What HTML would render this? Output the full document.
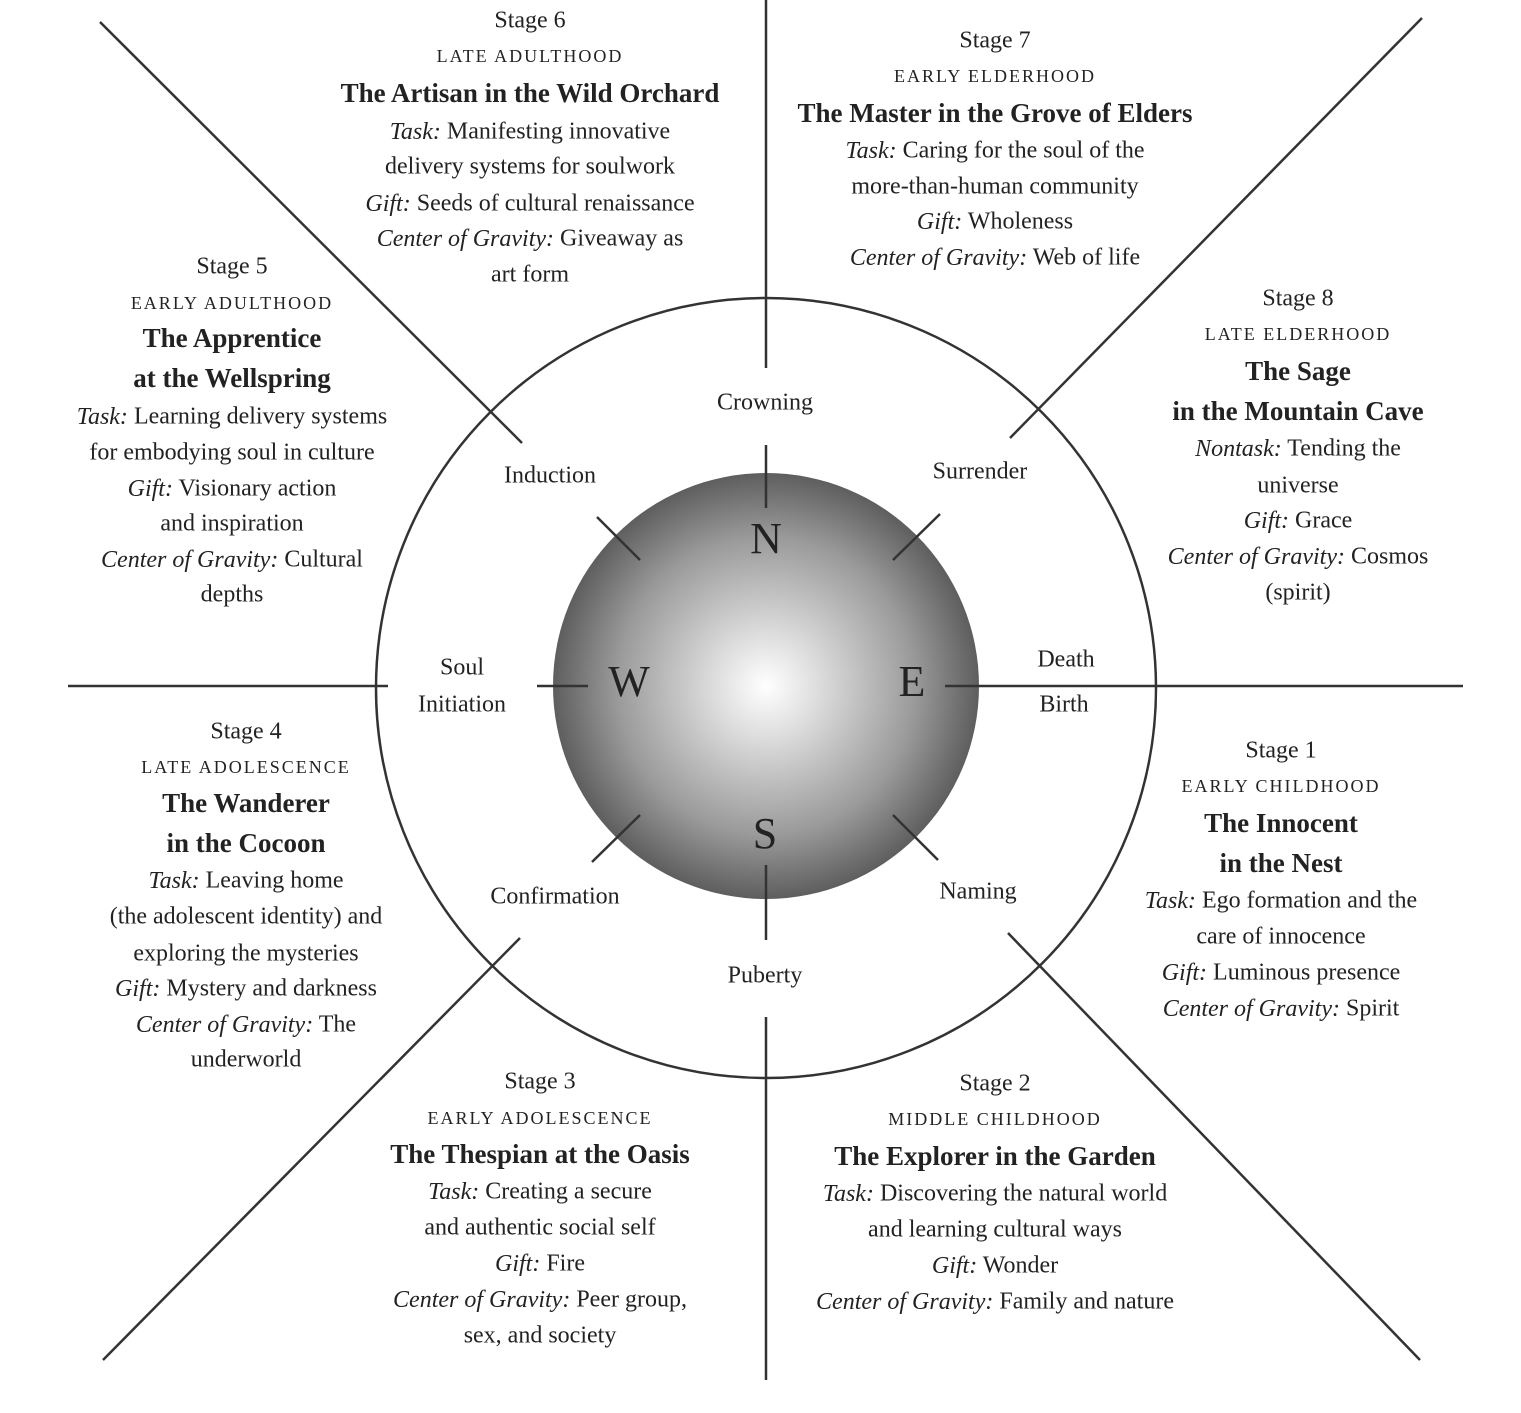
<!DOCTYPE html>
<html><head><meta charset="utf-8"><style>
html,body{margin:0;padding:0;background:#fff;}
svg{display:block;}
text{font-family:"Liberation Serif",serif;fill:#222;text-anchor:middle;dominant-baseline:middle;font-size:24px;}
.t{font-weight:bold;font-size:27px;}
.sc{font-size:18px;letter-spacing:2px;}
.i{font-style:italic;}
.L{font-size:44px;}
</style></head><body>
<svg width="1521" height="1413" viewBox="0 0 1521 1413">
<defs><radialGradient id="g" cx="50%" cy="50%" r="50%">
<stop offset="0" stop-color="#fff"/><stop offset="0.25" stop-color="#dcdcdc"/><stop offset="0.7" stop-color="#9a9a9a"/><stop offset="1" stop-color="#5e5e5e"/></radialGradient></defs>
<circle cx="766" cy="686" r="213" fill="url(#g)"/>
<g stroke="#333" stroke-width="2.5" fill="none">
<circle cx="766" cy="688" r="390"/>
<line x1="766" y1="0" x2="766" y2="368"/>
<line x1="766" y1="1017" x2="766" y2="1380"/>
<line x1="68" y1="686" x2="388" y2="686"/>
<line x1="945" y1="686" x2="1463" y2="686"/>
<line x1="537" y1="686" x2="588" y2="686"/>
<line x1="766" y1="445" x2="766" y2="508"/>
<line x1="766" y1="865" x2="766" y2="940"/>
<line x1="100" y1="22" x2="522" y2="443"/>
<line x1="1422" y1="18" x2="1010" y2="438"/>
<line x1="520" y1="938" x2="103" y2="1360"/>
<line x1="1008" y1="933" x2="1420" y2="1360"/>
<line x1="597" y1="517" x2="640" y2="560"/>
<line x1="940" y1="514" x2="893" y2="560"/>
<line x1="640" y1="815" x2="592" y2="862"/>
<line x1="893" y1="815" x2="938" y2="860"/>
</g>
<text class="L" x="766" y="543">N</text>
<text class="L" x="629" y="686">W</text>
<text class="L" x="912" y="686">E</text>
<text class="L" x="765" y="838">S</text>

<text x="765" y="404">Crowning</text>
<text x="550" y="477">Induction</text>
<text x="980" y="473">Surrender</text>
<text x="462" y="669">Soul</text><text x="462" y="706">Initiation</text>
<text x="1066" y="661">Death</text><text x="1064" y="706">Birth</text>
<text x="555" y="898">Confirmation</text>
<text x="978" y="893">Naming</text>
<text x="765" y="977">Puberty</text>

<g transform="translate(530,0)">
<text y="22">Stage 6</text><text class="sc" y="58">LATE ADULTHOOD</text>
<text class="t" y="96">The Artisan in the Wild Orchard</text>
<text y="133"><tspan class="i">Task:</tspan> Manifesting innovative</text>
<text y="168">delivery systems for soulwork</text>
<text y="205"><tspan class="i">Gift:</tspan> Seeds of cultural renaissance</text>
<text y="240"><tspan class="i">Center of Gravity:</tspan> Giveaway as</text>
<text y="276">art form</text></g>

<g transform="translate(995,0)">
<text y="42">Stage 7</text><text class="sc" y="78">EARLY ELDERHOOD</text>
<text class="t" y="116">The Master in the Grove of Elders</text>
<text y="152"><tspan class="i">Task:</tspan> Caring for the soul of the</text>
<text y="188">more-than-human community</text>
<text y="223"><tspan class="i">Gift:</tspan> Wholeness</text>
<text y="259"><tspan class="i">Center of Gravity:</tspan> Web of life</text></g>

<g transform="translate(1298,0)">
<text y="300">Stage 8</text><text class="sc" y="336">LATE ELDERHOOD</text>
<text class="t" y="374">The Sage</text><text class="t" y="414">in the Mountain Cave</text>
<text y="450"><tspan class="i">Nontask:</tspan> Tending the</text>
<text y="487">universe</text>
<text y="522"><tspan class="i">Gift:</tspan> Grace</text>
<text y="558"><tspan class="i">Center of Gravity:</tspan> Cosmos</text>
<text y="594">(spirit)</text></g>

<g transform="translate(232,0)">
<text y="268">Stage 5</text><text class="sc" y="305">EARLY ADULTHOOD</text>
<text class="t" y="341">The Apprentice</text><text class="t" y="381">at the Wellspring</text>
<text y="418"><tspan class="i">Task:</tspan> Learning delivery systems</text>
<text y="454">for embodying soul in culture</text>
<text y="490"><tspan class="i">Gift:</tspan> Visionary action</text>
<text y="525">and inspiration</text>
<text y="561"><tspan class="i">Center of Gravity:</tspan> Cultural</text>
<text y="596">depths</text></g>

<g transform="translate(246,0)">
<text y="733">Stage 4</text><text class="sc" y="769">LATE ADOLESCENCE</text>
<text class="t" y="806">The Wanderer</text><text class="t" y="846">in the Cocoon</text>
<text y="882"><tspan class="i">Task:</tspan> Leaving home</text>
<text y="918">(the adolescent identity) and</text>
<text y="955">exploring the mysteries</text>
<text y="990"><tspan class="i">Gift:</tspan> Mystery and darkness</text>
<text y="1026"><tspan class="i">Center of Gravity:</tspan> The</text>
<text y="1061">underworld</text></g>

<g transform="translate(1281,0)">
<text y="752">Stage 1</text><text class="sc" y="788">EARLY CHILDHOOD</text>
<text class="t" y="826">The Innocent</text><text class="t" y="866">in the Nest</text>
<text y="902"><tspan class="i">Task:</tspan> Ego formation and the</text>
<text y="938">care of innocence</text>
<text y="974"><tspan class="i">Gift:</tspan> Luminous presence</text>
<text y="1010"><tspan class="i">Center of Gravity:</tspan> Spirit</text></g>

<g transform="translate(540,0)">
<text y="1083">Stage 3</text><text class="sc" y="1120">EARLY ADOLESCENCE</text>
<text class="t" y="1157">The Thespian at the Oasis</text>
<text y="1193"><tspan class="i">Task:</tspan> Creating a secure</text>
<text y="1229">and authentic social self</text>
<text y="1265"><tspan class="i">Gift:</tspan> Fire</text>
<text y="1301"><tspan class="i">Center of Gravity:</tspan> Peer group,</text>
<text y="1337">sex, and society</text></g>

<g transform="translate(995,0)">
<text y="1085">Stage 2</text><text class="sc" y="1121">MIDDLE CHILDHOOD</text>
<text class="t" y="1159">The Explorer in the Garden</text>
<text y="1195"><tspan class="i">Task:</tspan> Discovering the natural world</text>
<text y="1231">and learning cultural ways</text>
<text y="1267"><tspan class="i">Gift:</tspan> Wonder</text>
<text y="1303"><tspan class="i">Center of Gravity:</tspan> Family and nature</text></g>
</svg>
</body></html>
